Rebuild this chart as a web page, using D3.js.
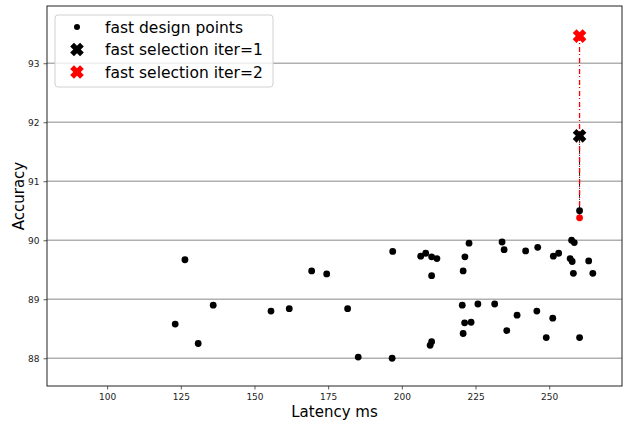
<!DOCTYPE html>
<html>
<head>
<meta charset="utf-8">
<script src="https://cdn.jsdelivr.net/npm/d3@7"></script>
<style>
  body { margin: 0; background: #fff; }
  svg { display: block; font-family: "DejaVu Sans", sans-serif; }
</style>
</head>
<body>
<svg id="chart" width="627" height="422"></svg>
<script>
// design points (latency ms, accuracy)
var designLatency = [123.1, 126.4, 130.9, 136.0, 155.6, 161.8, 169.4, 174.5, 181.6, 185.2,
  196.9, 196.7, 206.4, 208.1, 210.1, 211.9, 210.1, 209.6, 210.1, 220.5,
  220.8, 220.8, 221.3, 221.4, 222.8, 223.5, 225.8, 231.5, 234.0, 234.7,
  235.6, 239.1, 242.0, 245.8, 246.1, 249.0, 251.2, 251.4, 253.2, 257.1,
  257.6, 257.8, 258.2, 258.5, 260.3, 260.3, 263.4, 264.8];
var designAccuracy = [88.58, 89.67, 88.25, 88.90, 88.80, 88.84, 89.48, 89.43, 88.84, 88.02,
  89.81, 88.00, 89.73, 89.78, 89.72, 89.69, 89.40, 88.22, 88.28, 88.90,
  89.48, 88.42, 88.60, 89.72, 89.95, 88.61, 88.92, 88.92, 89.97, 89.84,
  88.47, 88.73, 89.82, 88.80, 89.88, 88.35, 88.68, 89.73, 89.78, 89.69,
  90.00, 89.64, 89.44, 89.96, 90.50, 88.35, 89.65, 89.44];

// iteration 2 design point (red)
var iter2Latency = [260.3];
var iter2Accuracy = [90.38];

// selections: selected point and the design point it comes from
var selLatency = [260.3, 260.3];
var selAccuracy = [91.77, 93.46];
var selFromAccuracy = [90.50, 90.38];
var selColor = ["black", "red"];

var xTicks = [100, 125, 150, 175, 200, 225, 250];
var yTicks = [88, 89, 90, 91, 92, 93];
var legendLabels = ["fast design points", "fast selection iter=1", "fast selection iter=2"];

var margin = {left: 47, right: 622, top: 6, bottom: 386};

var x = d3.scaleLinear().domain([79.6, 274.7]).range([margin.left, margin.right]);
var y = d3.scaleLinear().domain([87.53, 93.97]).range([margin.bottom, margin.top]);

var svg = d3.select("#chart");

// filled X marker path
function xMarker(s) {
  var a = s / 2, t = s * 0.19;
  var pts = [[-t, -a], [t, -a], [t, -t], [a, -t], [a, t], [t, t], [t, a], [-t, a], [-t, t], [-a, t], [-a, -t], [-t, -t]];
  var c = Math.SQRT1_2;
  return "M" + pts.map(function(p) {
    return [(p[0] - p[1]) * c, (p[0] + p[1]) * c].map(function(v) { return v.toFixed(2); }).join(",");
  }).join("L") + "Z";
}

// grid
svg.append("g")
  .selectAll("line")
  .data(yTicks)
  .enter().append("line")
  .attr("x1", margin.left).attr("x2", margin.right)
  .attr("y1", function(d) { return y(d); })
  .attr("y2", function(d) { return y(d); })
  .attr("stroke", "#b0b0b0")
  .attr("stroke-width", 1.5);

// axes
var xAxis = svg.append("g")
  .attr("transform", "translate(0," + margin.bottom + ")")
  .call(d3.axisBottom(x).tickValues(xTicks).tickSize(3.5).tickPadding(4));
var yAxis = svg.append("g")
  .attr("transform", "translate(" + margin.left + ",0)")
  .call(d3.axisLeft(y).tickValues(yTicks).tickSize(3.5).tickPadding(4).tickFormat(d3.format("d")));
[xAxis, yAxis].forEach(function(g) {
  g.select(".domain").remove();
  g.selectAll("text").style("font-size", "9px").style("font-family", "DejaVu Sans").attr("fill", "#222");
  g.selectAll("line").attr("stroke", "#333").attr("stroke-width", 0.8);
});

svg.append("rect")
  .attr("x", margin.left).attr("y", margin.top)
  .attr("width", margin.right - margin.left).attr("height", margin.bottom - margin.top)
  .attr("fill", "none").attr("stroke", "#222").attr("stroke-width", 1);

// connecting dash-dot lines (black first, red on top)
var order = [0, 1];
svg.append("g")
  .selectAll("line")
  .data(order)
  .enter().append("line")
  .attr("x1", function(i) { return x(selLatency[i]); })
  .attr("x2", function(i) { return x(selLatency[i]); })
  .attr("y1", function(i) { return y(selAccuracy[i]); })
  .attr("y2", function(i) { return y(selFromAccuracy[i]); })
  .style("stroke", function(i) { return selColor[i]; })
  .style("stroke-width", function(i) { return i === 0 ? 1 : 1.3; })
  .style("stroke-dasharray", function(i) { return i === 0 ? "6,2,1,2" : "5,2,1,3"; });

// design points
svg.append("g")
  .selectAll("circle")
  .data(designLatency)
  .enter().append("circle")
  .attr("cx", function(d) { return x(d); })
  .attr("cy", function(d, i) { return y(designAccuracy[i]); })
  .attr("r", 3.4)
  .attr("fill", "black");

svg.append("g")
  .selectAll("circle")
  .data(iter2Latency)
  .enter().append("circle")
  .attr("cx", function(d) { return x(d); })
  .attr("cy", function(d, i) { return y(iter2Accuracy[i]); })
  .attr("r", 3.4)
  .attr("fill", "red");

// selections
svg.append("g")
  .selectAll("path")
  .data(selLatency)
  .enter().append("path")
  .attr("d", xMarker(14))
  .attr("transform", function(d, i) { return "translate(" + x(d) + "," + y(selAccuracy[i]) + ")"; })
  .attr("fill", function(d, i) { return selColor[i]; });

// axis labels
svg.append("text")
  .attr("x", (margin.left + margin.right) / 2).attr("y", 417)
  .attr("text-anchor", "middle")
  .style("font-size", "15px")
  .text("Latency ms");
svg.append("text")
  .attr("transform", "translate(24," + (margin.top + margin.bottom) / 2 + ") rotate(-90)")
  .attr("text-anchor", "middle")
  .style("font-size", "15px")
  .text("Accuracy");

// legend
var lg = svg.append("g").attr("transform", "translate(55,15)");
lg.append("rect")
  .attr("width", 218).attr("height", 72).attr("rx", 3)
  .attr("fill", "white").attr("fill-opacity", 0.8)
  .attr("stroke", "#d0d0d0").attr("stroke-width", 1);
var rows = lg.selectAll(".row")
  .data(legendLabels)
  .enter().append("g")
  .attr("transform", function(d, i) { return "translate(0," + (12 + i * 22.5) + ")"; });
rows.append("text")
  .attr("x", 50).attr("y", 5.5)
  .style("font-size", "15.5px")
  .text(function(d) { return d; });
rows.each(function(d, i) {
  var g = d3.select(this);
  if (i === 0) {
    g.append("circle").attr("cx", 22).attr("cy", 0).attr("r", 3).attr("fill", "black");
  } else {
    g.append("path").attr("d", xMarker(14))
      .attr("transform", "translate(22,0)")
      .attr("fill", selColor[i - 1]);
  }
});
</script>
</body>
</html>
